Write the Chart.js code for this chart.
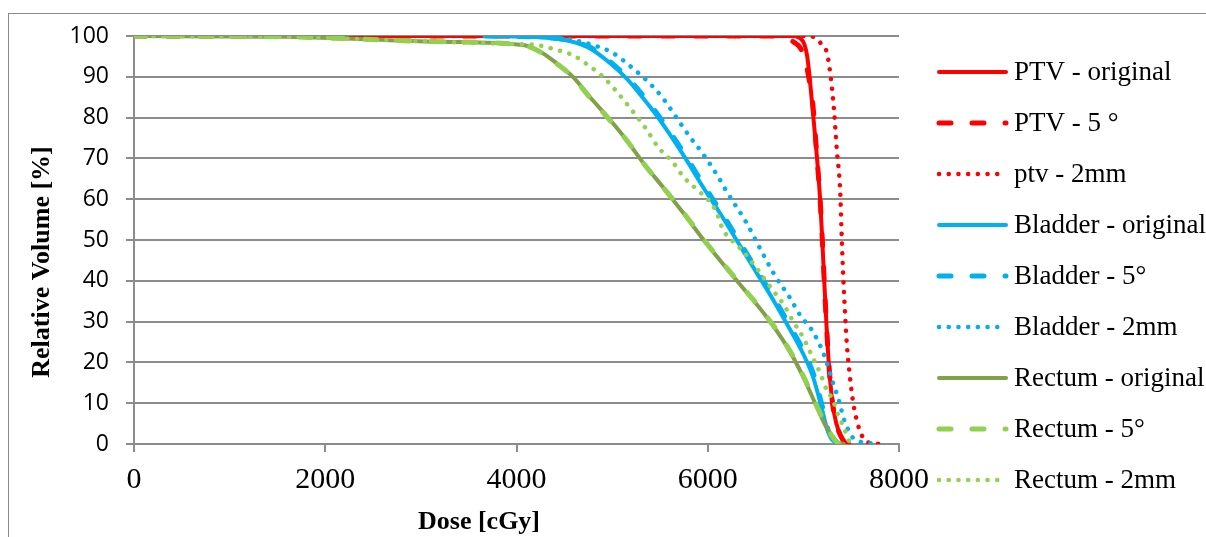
<!DOCTYPE html>
<html>
<head>
<meta charset="utf-8">
<script src="https://cdn.jsdelivr.net/npm/chart.js@4/dist/chart.umd.min.js"></script>
<style>
  body { margin: 0; background: #fff; }
  #wrap { position: relative; width: 1206px; height: 537px; overflow: hidden; }
  #frame { position: absolute; left: 8px; top: 13px; width: 1300px; height: 600px;
           border-top: 1.5px solid #8a8a8a; border-left: 1.5px solid #8a8a8a; }
  canvas { position: absolute; left: 0; top: 0; }
</style>
</head>
<body>
<div id="wrap">
  <div id="frame"></div>
  <canvas id="dvh" width="1206" height="537"></canvas>
</div>
<script>
// series labels, same order as the legend
var seriesNames = ["PTV - original", "PTV - 5 \u00b0", "ptv - 2mm",
                   "Bladder - original", "Bladder - 5\u00b0", "Bladder - 2mm",
                   "Rectum - original", "Rectum - 5\u00b0", "Rectum - 2mm"];

// dose [cGy] / relative volume [%]
var ptvOrigDose = [0, 6900, 6960, 7010, 7040, 7065, 7105, 7143, 7175, 7198, 7218, 7240, 7265, 7305, 7345, 7390, 7430, 7480];
var ptvOrigVol  = [100, 100, 99.5, 98, 95, 90, 80, 70, 60, 50, 40, 30, 20, 10, 5, 2, 0.5, 0];

var ptv5Dose = [0, 6700, 6820, 6900, 6970, 7020, 7055, 7100, 7143, 7175, 7198, 7218, 7240, 7265, 7305, 7345, 7390, 7430, 7480];
var ptv5Vol  = [100, 100, 99.5, 98.5, 97, 94, 90, 83, 70, 60, 50, 40, 30, 20, 10, 5, 2, 0.5, 0];

var ptv2Dose = [0, 7030, 7130, 7195, 7245, 7280, 7320, 7350, 7385, 7400, 7415, 7435, 7450, 7480, 7515, 7550, 7580, 7660, 7870];
var ptv2Vol  = [100, 100, 99.5, 97.8, 96, 91, 82, 72, 62, 51.5, 42, 32.5, 26, 18, 11, 6.6, 4, 0.5, 0];

var bladOrigDose = [3670, 4350, 4735, 4945, 5155, 5300, 5450, 5600, 5780, 5950, 6130, 6340, 6510, 6680, 6850, 7000, 7100, 7190, 7250, 7310, 7400];
var bladOrigVol  = [100, 99.5, 97.4, 94, 89.5, 85.5, 81, 76, 69.5, 63, 56.5, 48.5, 42, 35.5, 28.5, 22, 16.5, 9, 3.5, 0.8, 0];

var blad5Dose = [3670, 4370, 4755, 4965, 5175, 5320, 5470, 5620, 5800, 5970, 6150, 6360, 6530, 6700, 6870, 7020, 7115, 7200, 7258, 7318, 7410];
var blad5Vol  = [100, 99.5, 97.4, 94, 89.5, 85.5, 81, 76, 69.5, 63, 56.5, 48.5, 42, 35.5, 28.5, 22, 16.5, 9, 3.5, 0.8, 0];

var blad2Dose = [4150, 4320, 4590, 4800, 5010, 5220, 5375, 5530, 5690, 5815, 5935, 6095, 6200, 6410, 6545, 6700, 6860, 6965, 7100, 7225, 7310, 7375, 7425, 7470, 7520, 7700, 7800];
var blad2Vol  = [100, 99.8, 99, 97.8, 95.8, 92, 88.8, 84.8, 79.4, 75.2, 71.6, 66, 61.8, 54, 48, 41.4, 35.8, 31.6, 27.5, 21.3, 15, 10.4, 6, 3.4, 1.5, 0.2, 0];

var rectOrigDose = [0, 1600, 2400, 3200, 4070, 4245, 4420, 4590, 4770, 4980, 5150, 5325, 5530, 5745, 5990, 6305, 6620, 6830, 7000, 7140, 7245, 7350, 7420];
var rectOrigVol  = [100, 99.8, 99.2, 98.6, 97.8, 96.2, 93.3, 90, 85, 79.4, 74.5, 68.9, 63, 56.6, 49, 40, 31, 23.8, 16.4, 9.1, 3.9, 0.5, 0];

var rect5Dose = [0, 1600, 2400, 3200, 4060, 4240, 4415, 4585, 4765, 4975, 5150, 5325, 5530, 5750, 5995, 6310, 6625, 6835, 7005, 7145, 7250, 7350, 7420];
var rect5Vol  = [100, 99.8, 99.2, 98.6, 97.8, 96.2, 93.3, 90, 85, 79.4, 74.5, 68.9, 63, 56.6, 49, 40, 31, 23.8, 16.4, 9.1, 3.9, 0.5, 0];

var rect2Dose = [0, 1600, 2400, 3200, 4000, 4210, 4420, 4590, 4770, 4905, 5050, 5190, 5345, 5480, 5640, 5745, 5890, 6025, 6095, 6160, 6250, 6370, 6495, 6670, 6790, 6895, 7000, 7090, 7175, 7245, 7300, 7365, 7425, 7490, 7520];
var rect2Vol  = [100, 99.8, 99.2, 98.6, 98, 97.8, 96.6, 95.3, 92.5, 90, 86.3, 82.3, 77.6, 72.8, 68.9, 65.5, 62.3, 59.3, 56.6, 52.5, 50, 47.2, 43.6, 38, 34.3, 30, 26, 21.6, 17.4, 13.2, 11.2, 7.1, 3.9, 0.3, 0];

var doseTicks = [0, 2000, 4000, 6000, 8000];
var volumeTicks = [0, 10, 20, 30, 40, 50, 60, 70, 80, 90, 100];

var RED = "#ff0000", BLUE = "#00b0f0", OLIVE = "#82a047", LIGHTGREEN = "#92d050";
var GRID = "#8c8c8c";

function pts(dose, vol) {
  var out = [];
  for (var i = 0; i < dose.length; i++) out.push({ x: dose[i], y: vol[i] });
  return out;
}

var styles = {
  solid:  { borderWidth: 4, borderDash: [], borderCapStyle: "round" },
  dashed: { borderWidth: 5, borderDash: [12, 21], borderCapStyle: "round" },
  dotted: { borderWidth: 4.5, borderDash: [0.1, 9.6], borderCapStyle: "round" }
};

function series(i, dose, vol, color, kind) {
  var s = styles[kind];
  return {
    label: seriesNames[i],
    data: pts(dose, vol),
    borderColor: color,
    backgroundColor: color,
    borderWidth: s.borderWidth,
    borderDash: s.borderDash,
    borderCapStyle: s.borderCapStyle,
    borderJoinStyle: "round",
    pointRadius: 0,
    fill: false,
    cubicInterpolationMode: "monotone",
    order: 8 - i   // later series drawn on top, like the original
  };
}

var datasets = [
  series(0, ptvOrigDose, ptvOrigVol, RED, "solid"),
  series(1, ptv5Dose, ptv5Vol, RED, "dashed"),
  series(2, ptv2Dose, ptv2Vol, RED, "dotted"),
  series(3, bladOrigDose, bladOrigVol, BLUE, "solid"),
  series(4, blad5Dose, blad5Vol, BLUE, "dashed"),
  series(5, blad2Dose, blad2Vol, BLUE, "dotted"),
  series(6, rectOrigDose, rectOrigVol, OLIVE, "solid"),
  series(7, rect5Dose, rect5Vol, LIGHTGREEN, "dashed"),
  series(8, rect2Dose, rect2Vol, LIGHTGREEN, "dotted")
];

// axis titles and the legend, placed like the Excel original
var decorations = {
  id: "decorations",
  afterDraw: function (chart) {
    var ctx = chart.ctx;
    ctx.save();
    ctx.fillStyle = "#000";
    ctx.font = "bold 26px 'Liberation Serif'";
    ctx.textAlign = "center";
    ctx.textBaseline = "middle";
    ctx.fillText("Dose [cGy]", 479, 522);
    ctx.translate(42, 262);
    ctx.rotate(-Math.PI / 2);
    ctx.fillText("Relative Volume [%]", 0, 0);
    ctx.restore();

    ctx.save();
    ctx.font = "27px 'Liberation Serif'";
    ctx.textAlign = "left";
    ctx.textBaseline = "middle";
    chart.data.datasets.forEach(function (ds, i) {
      var y = 72 + 51 * i;
      ctx.beginPath();
      ctx.strokeStyle = ds.borderColor;
      ctx.lineWidth = ds.borderWidth;
      ctx.lineCap = ds.borderCapStyle;
      ctx.setLineDash(ds.borderDash);
      ctx.moveTo(939, y);
      ctx.lineTo(1006, y);
      ctx.stroke();
      ctx.setLineDash([]);
      ctx.fillStyle = "#000";
      ctx.fillText(ds.label, 1014, y + 1);
    });
    ctx.restore();
  }
};

function plain(v) { return String(v); }

new Chart(document.getElementById("dvh"), {
  type: "line",
  data: { datasets: datasets },
  plugins: [decorations],
  options: {
    responsive: false,
    animation: false,
    layout: { padding: { left: 0, top: 36, right: 307, bottom: 0 } },
    plugins: { legend: { display: false }, tooltip: { enabled: false } },
    scales: {
      x: {
        type: "linear",
        min: 0, max: 8000,
        afterBuildTicks: function (s) { s.ticks = doseTicks.map(function (v) { return { value: v }; }); },
        afterFit: function (s) { s.height = 93; },
        grid: { drawOnChartArea: false, drawTicks: true, tickLength: 8, color: GRID, lineWidth: 2 },
        border: { color: GRID, width: 2 },
        ticks: { color: "#000", padding: 10, callback: plain, font: { family: "'Liberation Serif'", size: 30 } }
      },
      y: {
        min: 0, max: 100,
        afterBuildTicks: function (s) { s.ticks = volumeTicks.map(function (v) { return { value: v }; }); },
        afterFit: function (s) { s.width = 134; },
        grid: { color: GRID, lineWidth: 2, tickLength: 8 },
        border: { color: GRID, width: 2 },
        ticks: { color: "#000", padding: 17, callback: plain, font: { family: "'Open Sans'", size: 23 } }
      }
    }
  }
});
</script>
</body>
</html>
